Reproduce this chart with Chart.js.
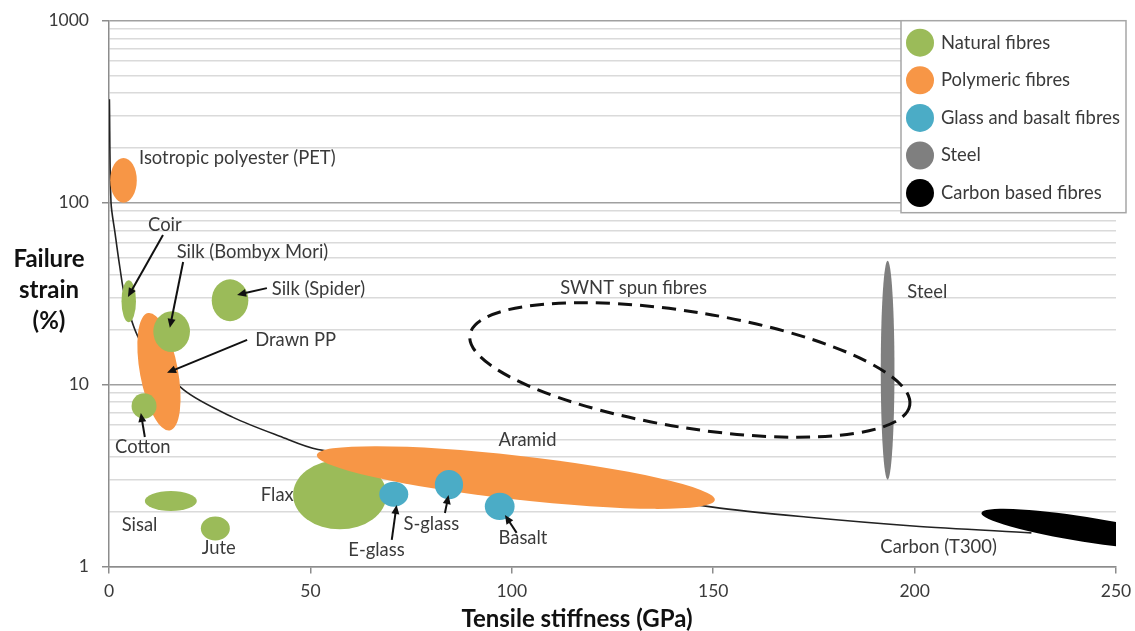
<!DOCTYPE html>
<html>
<head>
<meta charset="utf-8">
<script src="https://cdn.jsdelivr.net/npm/chart.js@4.4.1/dist/chart.umd.min.js"></script>
<style>
  html, body { margin: 0; padding: 0; background: #fff; }
  #wrap { width: 1135px; height: 631px; }
</style>
</head>
<body>
<div id="wrap"><canvas id="fibreChart" width="1135" height="631"></canvas></div>
<script>
// 1. Data
const groupNames = ['Natural fibres', 'Polymeric fibres', 'Glass and basalt fibres', 'Steel', 'Carbon based fibres'];

const xTickValues = [0, 50, 100, 150, 200, 250];
const yTickLabels = [1, 10, 100, 1000];
const yGridValues = [1, 2, 3, 4, 5, 6, 7, 8, 9, 10, 20, 30, 40, 50, 60, 70, 80, 90, 100,
                     200, 300, 400, 500, 600, 700, 800, 900, 1000];

// black trend line (stiffness GPa, strain %)
const curveStiffness = [0.1, 0.5, 1.5, 2.7, 4.0, 7.7, 18.4, 30.8, 42.4, 51.9, 149.9, 173, 199.6, 229];
const curveStrain    = [370, 100, 68, 44, 30, 17.5, 9.4, 6.6, 5.2, 4.4, 2.12, 1.87, 1.67, 1.53];

// regions given as stiffness / strain ranges
const boxNames        = ['Isotropic polyester (PET)', 'Coir', 'Silk (Bombyx Mori)', 'Silk (Spider)', 'Cotton', 'Sisal', 'Jute', 'Flax', 'E-glass', 'S-glass', 'Basalt', 'Steel'];
const boxGroup        = [1, 0, 0, 0, 0, 0, 0, 0, 2, 2, 2, 3];
const boxStiffnessMin = [0.3, 3.1, 11.0, 25.5, 5.6, 8.9, 22.8, 45.7, 67.1, 80.9, 93.3, 191.6];
const boxStiffnessMax = [6.9, 6.7, 20.1, 34.6, 11.8, 21.8, 30.0, 68.9, 74.3, 87.9, 100.7, 195.0];
const boxStrainMin    = [100, 22, 15.1, 22.3, 6.5, 2.02, 1.39, 1.60, 2.13, 2.34, 1.80, 3.0];
const boxStrainMax    = [176, 37.5, 25.3, 37.9, 8.95, 2.60, 1.88, 3.85, 2.92, 3.39, 2.54, 48];

// slanted regions given by the two ends of their long axis
const tiltNames      = ['Drawn PP', 'Aramid', 'Carbon (T300)', 'SWNT spun fibres'];
const tiltGroup      = [1, 1, 4, -1];
const tiltStiffnessA = [9.7, 51.6, 216.6, 89.6];
const tiltStrainA    = [24.7, 4.10, 1.97, 18.8];
const tiltStiffnessB = [15.1, 150.4, 268, 198.8];
const tiltStrainB    = [5.6, 2.32, 1.30, 7.7];

// text labels (left edge, middle) and arrows
const labelText      = ['Isotropic polyester (PET)', 'Coir', 'Silk (Bombyx Mori)', 'Silk (Spider)', 'Drawn PP', 'Cotton', 'Sisal', 'Jute', 'Flax', 'E-glass', 'S-glass', 'Basalt', 'Aramid', 'SWNT spun fibres', 'Steel', 'Carbon (T300)'];
const labelStiffness = [7.45, 9.7, 16.8, 40.4, 36.3, 1.5, 3.15, 23.0, 37.7, 59.4, 73.1, 96.7, 96.7, 112.0, 198.2, 191.5];
const labelStrain    = [176, 75.4, 53.7, 33.4, 17.6, 4.56, 1.69, 1.26, 2.47, 1.23, 1.71, 1.43, 4.96, 33.8, 32.3, 1.285];

const arrowTailStiffness = [13.4, 18.4, 39.2, 34.3, 8.9, 70.2, 83.4, 101.2];
const arrowTailStrain    = [66.4, 47.2, 33.9, 17.6, 5.15, 1.40, 1.97, 1.53];
const arrowHeadStiffness = [4.7, 15.1, 31.8, 14.4, 7.9, 71.4, 84.3, 98.3];
const arrowHeadStrain    = [30.3, 20.5, 31.1, 11.6, 6.98, 2.18, 2.47, 1.92];

// 2. Styles
const groupColors = ['#9bbb59', '#f79646', '#4bacc6', '#7f7f7f', '#000000'];
const tiltHalfWidth = { 'Drawn PP': 19, 'Aramid': 22, 'Carbon (T300)': 12.5, 'SWNT spun fibres': 58 };
const drawOrder = ['Drawn PP', 'Coir', 'Silk (Bombyx Mori)', 'Silk (Spider)', 'Cotton', 'Sisal', 'Jute', 'Flax',
                   'Aramid', 'Isotropic polyester (PET)', 'E-glass', 'S-glass', 'Basalt', 'Steel', 'Carbon (T300)', 'SWNT spun fibres'];
const FONT = "Lato, Carlito, 'Open Sans', sans-serif";
const textColor = '#3a3a3a';

// 3. Drawing helpers
function drawArrow(ctx, x1, y1, x2, y2) {
    const ang = Math.atan2(y2 - y1, x2 - x1);
    const len = 9, wid = 4;
    ctx.beginPath();
    ctx.moveTo(x1, y1);
    ctx.lineTo(x2 - Math.cos(ang) * len * 0.8, y2 - Math.sin(ang) * len * 0.8);
    ctx.stroke();
    ctx.beginPath();
    ctx.moveTo(x2, y2);
    ctx.lineTo(x2 - Math.cos(ang) * len + Math.sin(ang) * wid, y2 - Math.sin(ang) * len - Math.cos(ang) * wid);
    ctx.lineTo(x2 - Math.cos(ang) * len - Math.sin(ang) * wid, y2 - Math.sin(ang) * len + Math.cos(ang) * wid);
    ctx.closePath();
    ctx.fill();
}

const regionPlugin = {
    id: 'fibreRegions',
    afterDatasetsDraw(chart) {
        const ctx = chart.ctx;
        const xs = chart.scales.x, ys = chart.scales.y;
        const area = chart.chartArea;
        ctx.save();
        ctx.beginPath();
        ctx.rect(area.left, area.top - 20, area.right - area.left, area.bottom - area.top + 20);
        ctx.clip();

        drawOrder.forEach(name => {
            let i = boxNames.indexOf(name);
            if (i >= 0) {
                const x1 = xs.getPixelForValue(boxStiffnessMin[i]), x2 = xs.getPixelForValue(boxStiffnessMax[i]);
                const y1 = ys.getPixelForValue(boxStrainMin[i]), y2 = ys.getPixelForValue(boxStrainMax[i]);
                ctx.beginPath();
                ctx.ellipse((x1 + x2) / 2, (y1 + y2) / 2, Math.abs(x2 - x1) / 2, Math.abs(y1 - y2) / 2, 0, 0, Math.PI * 2);
                ctx.fillStyle = groupColors[boxGroup[i]];
                ctx.fill();
                return;
            }
            i = tiltNames.indexOf(name);
            const ax = xs.getPixelForValue(tiltStiffnessA[i]), ay = ys.getPixelForValue(tiltStrainA[i]);
            const bx = xs.getPixelForValue(tiltStiffnessB[i]), by = ys.getPixelForValue(tiltStrainB[i]);
            const half = Math.hypot(bx - ax, by - ay) / 2;
            ctx.beginPath();
            ctx.ellipse((ax + bx) / 2, (ay + by) / 2, half, tiltHalfWidth[name], Math.atan2(by - ay, bx - ax), 0, Math.PI * 2);
            if (tiltGroup[i] < 0) {
                ctx.setLineDash([14, 8]);
                ctx.lineWidth = 3;
                ctx.strokeStyle = '#111';
                ctx.stroke();
                ctx.setLineDash([]);
            } else {
                ctx.fillStyle = groupColors[tiltGroup[i]];
                ctx.fill();
            }
        });
        ctx.restore();

        // arrows
        ctx.save();
        ctx.strokeStyle = '#111';
        ctx.fillStyle = '#111';
        ctx.lineWidth = 2;
        arrowTailStiffness.forEach((v, i) => {
            drawArrow(ctx,
                xs.getPixelForValue(v), ys.getPixelForValue(arrowTailStrain[i]),
                xs.getPixelForValue(arrowHeadStiffness[i]), ys.getPixelForValue(arrowHeadStrain[i]));
        });

        // labels
        ctx.font = '18.4px ' + FONT;
        ctx.fillStyle = textColor;
        ctx.textAlign = 'left';
        ctx.textBaseline = 'middle';
        labelText.forEach((t, i) => {
            ctx.fillText(t, xs.getPixelForValue(labelStiffness[i]), ys.getPixelForValue(labelStrain[i]));
        });
        ctx.restore();
    },
    afterDraw(chart) {
        const ctx = chart.ctx;
        const area = chart.chartArea;
        ctx.save();

        // legend box
        const bx = area.right - 215, by = area.top, bw = 225, bh = 192;
        ctx.fillStyle = '#fff';
        ctx.fillRect(bx, by, bw, bh);
        ctx.strokeStyle = '#a6a6a6';
        ctx.lineWidth = 1.5;
        ctx.strokeRect(bx, by, bw, bh);
        ctx.font = '18.4px ' + FONT;
        ctx.textBaseline = 'middle';
        groupNames.forEach((g, i) => {
            const cy = by + 22 + i * 37.6;
            ctx.beginPath();
            ctx.arc(bx + 19, cy, 14, 0, Math.PI * 2);
            ctx.fillStyle = groupColors[i];
            ctx.fill();
            ctx.fillStyle = textColor;
            ctx.fillText(g, bx + 40, cy);
        });

        // axis titles
        ctx.fillStyle = '#111';
        ctx.font = 'bold 24px ' + FONT;
        ctx.textAlign = 'center';
        ctx.textBaseline = 'alphabetic';
        ctx.fillText('Tensile stiffness (GPa)', 577, 627);
        ctx.textBaseline = 'middle';
        ['Failure', 'strain', '(%)'].forEach((t, i) => ctx.fillText(t, 49, 259 + i * 31));
        ctx.restore();
    }
};

// 4. Chart
const ctx = document.getElementById('fibreChart').getContext('2d');
new Chart(ctx, {
    type: 'line',
    data: {
        datasets: [{
            label: 'trend',
            data: curveStiffness.map((x, i) => ({ x: x, y: curveStrain[i] })),
            borderColor: '#222',
            borderWidth: 1.6,
            pointRadius: 0,
            fill: false,
            tension: 0.3
        }]
    },
    options: {
        responsive: false,
        animation: false,
        layout: { padding: { left: 0, right: 19, top: 20.7, bottom: 0 } },
        plugins: { legend: { display: false }, tooltip: { enabled: false } },
        scales: {
            x: {
                type: 'linear', min: 0, max: 250,
                afterBuildTicks: s => { s.ticks = xTickValues.map(v => ({ value: v })); },
                afterFit: s => { s.height = 64.5; s.paddingLeft = 0; s.paddingRight = 0; },
                ticks: { color: textColor, font: { size: 17.5, family: FONT }, padding: 7 },
                grid: { drawOnChartArea: false, tickLength: 7, color: '#8c8c8c', lineWidth: 1.5 },
                border: { color: '#8c8c8c', width: 1.5 }
            },
            y: {
                type: 'logarithmic', min: 1, max: 1000,
                afterBuildTicks: s => { s.ticks = yGridValues.map(v => ({ value: v })); },
                afterFit: s => { s.width = 109; s.paddingTop = 0; s.paddingBottom = 0; },
                ticks: {
                    autoSkip: false,
                    color: textColor, font: { size: 17.5, family: FONT }, padding: 13,
                    callback: v => yTickLabels.includes(v) ? String(v) : ''
                },
                grid: {
                    tickLength: 7,
                    lineWidth: 1.5,
                    color: c => yTickLabels.includes(c.tick.value) ? '#a0a0a0' : '#dadada',
                    tickColor: c => yTickLabels.includes(c.tick.value) ? '#8c8c8c' : 'rgba(0,0,0,0)'
                },
                border: { color: '#8c8c8c', width: 1.5 }
            }
        }
    },
    plugins: [regionPlugin]
});
</script>
</body>
</html>
